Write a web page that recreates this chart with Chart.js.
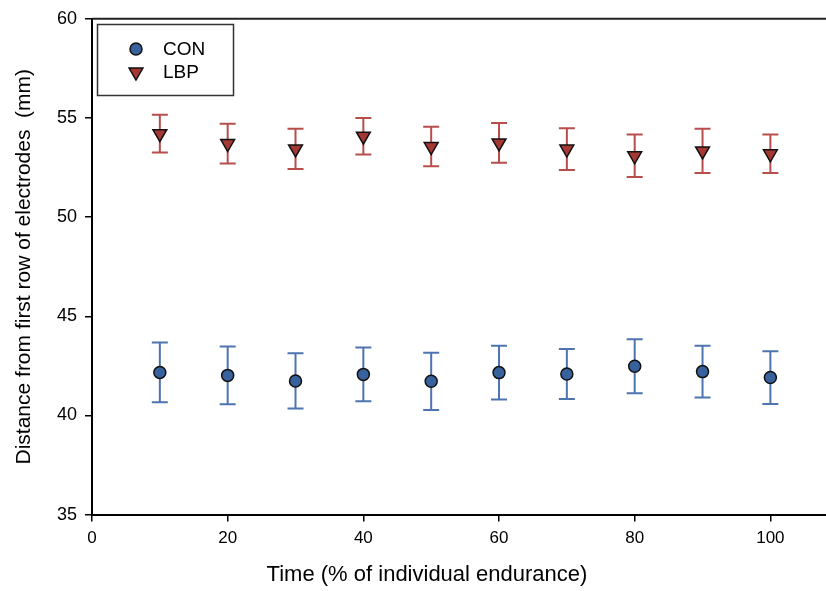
<!DOCTYPE html>
<html>
<head>
<meta charset="utf-8">
<script src="https://cdn.jsdelivr.net/npm/chart.js@4.4.1/dist/chart.umd.min.js"></script>
<style>
  html, body { margin: 0; padding: 0; background: #fff; }
</style>
</head>
<body>
<canvas id="chart" width="826" height="591"></canvas>
<script>
// time points (% of individual endurance)
const times = [10, 20, 30, 40, 50, 60, 70, 80, 90, 100];

// CON group: mean and error (mm)
const conMean = [42.17, 42.02, 41.74, 42.07, 41.72, 42.16, 42.09, 42.48, 42.21, 41.91];
const conErr  = [1.51, 1.46, 1.39, 1.35, 1.44, 1.36, 1.26, 1.36, 1.31, 1.33];

// LBP group: mean and error (mm)
const lbpMean = [54.21, 53.71, 53.44, 54.08, 53.56, 53.74, 53.43, 53.09, 53.34, 53.19];
const lbpErr  = [0.95, 1.00, 1.01, 0.92, 1.00, 1.00, 1.05, 1.07, 1.11, 0.97];

const xTicks = [0, 20, 40, 60, 80, 100];
const yTicks = [35, 40, 45, 50, 55, 60];

const FONT = "'Liberation Sans', Arial, sans-serif";

function toPoints(xs, ys) {
    return xs.map((x, i) => ({ x: x, y: ys[i] }));
}

// vertical error bars with caps, drawn under the markers
const errorBars = {
    id: 'errorBars',
    beforeDatasetsDraw(chart) {
        const ctx = chart.ctx;
        const xs = chart.scales.x;
        const ys = chart.scales.y;
        chart.data.datasets.forEach(ds => {
            ctx.save();
            ctx.strokeStyle = ds.errColor;
            ctx.lineWidth = 2;
            ds.data.forEach((pt, i) => {
                const px = xs.getPixelForValue(pt.x);
                const top = ys.getPixelForValue(pt.y + ds.errors[i]);
                const bot = ys.getPixelForValue(pt.y - ds.errors[i]);
                ctx.beginPath();
                ctx.moveTo(px, top);
                ctx.lineTo(px, bot);
                ctx.moveTo(px - 8, top);
                ctx.lineTo(px + 8, top);
                ctx.moveTo(px - 8, bot);
                ctx.lineTo(px + 8, bot);
                ctx.stroke();
            });
            ctx.restore();
        });
    }
};

// top frame line + boxed legend inside the plot
const frameAndLegend = {
    id: 'frameAndLegend',
    afterDraw(chart) {
        const ctx = chart.ctx;
        const a = chart.chartArea;
        ctx.save();
        ctx.strokeStyle = '#222';
        ctx.lineWidth = 2;
        ctx.beginPath();
        ctx.moveTo(a.left, a.top);
        ctx.lineTo(a.right, a.top);
        ctx.stroke();

        ctx.lineWidth = 1.5;
        ctx.strokeStyle = '#333';
        ctx.strokeRect(97.5, 24.5, 136, 71);

        ctx.font = '19px ' + FONT;
        ctx.textBaseline = 'middle';
        ctx.textAlign = 'left';
        const rows = [49, 72];
        chart.data.datasets.forEach((ds, i) => {
            ctx.fillStyle = ds.backgroundColor;
            ctx.strokeStyle = ds.borderColor;
            Chart.helpers.drawPoint(ctx, {
                pointStyle: ds.pointStyle,
                rotation: ds.pointRotation || 0,
                radius: ds.pointRadius,
                borderWidth: ds.borderWidth
            }, 136, rows[i]);
            ctx.fillStyle = '#000';
            ctx.fillText(ds.label, 163, rows[i] + 1);
        });
        ctx.restore();
    }
};

new Chart(document.getElementById('chart'), {
    type: 'scatter',
    data: {
        datasets: [
            {
                label: 'CON',
                data: toPoints(times, conMean),
                errors: conErr,
                errColor: 'rgb(78,116,176)',
                backgroundColor: 'rgb(56,98,158)',
                borderColor: '#111',
                borderWidth: 1.5,
                pointStyle: 'circle',
                pointRadius: 6,
                pointHoverRadius: 6
            },
            {
                label: 'LBP',
                data: toPoints(times, lbpMean),
                errors: lbpErr,
                errColor: 'rgb(184,78,76)',
                backgroundColor: 'rgb(166,56,52)',
                borderColor: '#111',
                borderWidth: 1.5,
                pointStyle: 'triangle',
                pointRotation: 180,
                pointRadius: 8,
                pointHoverRadius: 8
            }
        ]
    },
    options: {
        responsive: false,
        animation: false,
        layout: { autoPadding: false, padding: { top: 18, left: 28, right: 0, bottom: 0 } },
        plugins: {
            legend: { display: false },
            tooltip: { enabled: false },
            title: {
                display: true,
                position: 'bottom',
                text: 'Time (% of individual endurance)',
                color: '#000',
                font: { family: FONT, size: 22, weight: 'normal' },
                padding: { top: 7, bottom: 3 }
            }
        },
        scales: {
            x: {
                type: 'linear',
                min: 0,
                max: 108.2,
                afterFit(s) {
                    s.height = 40;
                    s.paddingRight = 0;
                    s.paddingLeft = 0;
                },
                afterBuildTicks(s) { s.ticks = xTicks.map(v => ({ value: v })); },
                ticks: {
                    color: '#000',
                    font: { family: FONT, size: 17 },
                    padding: 7,
                    maxRotation: 0,
                    includeBounds: false
                },
                grid: {
                    drawOnChartArea: false,
                    drawTicks: true,
                    tickLength: 7,
                    color: '#000',
                    lineWidth: 1.5
                },
                border: { color: '#000', width: 2 }
            },
            y: {
                min: 35,
                max: 60,
                afterFit(s) { s.width = 64; },
                afterBuildTicks(s) { s.ticks = yTicks.map(v => ({ value: v })); },
                ticks: {
                    color: '#000',
                    font: { family: FONT, size: 18 },
                    padding: 8
                },
                grid: {
                    drawOnChartArea: false,
                    drawTicks: true,
                    tickLength: 7,
                    color: '#000',
                    lineWidth: 1.5
                },
                border: { color: '#000', width: 2 },
                title: {
                    display: true,
                    text: 'Distance from first row of electrodes  (mm)',
                    color: '#000',
                    font: { family: FONT, size: 21 },
                    padding: { top: -16.5, bottom: 0 }
                }
            }
        }
    },
    plugins: [errorBars, frameAndLegend]
});
</script>
</body>
</html>
